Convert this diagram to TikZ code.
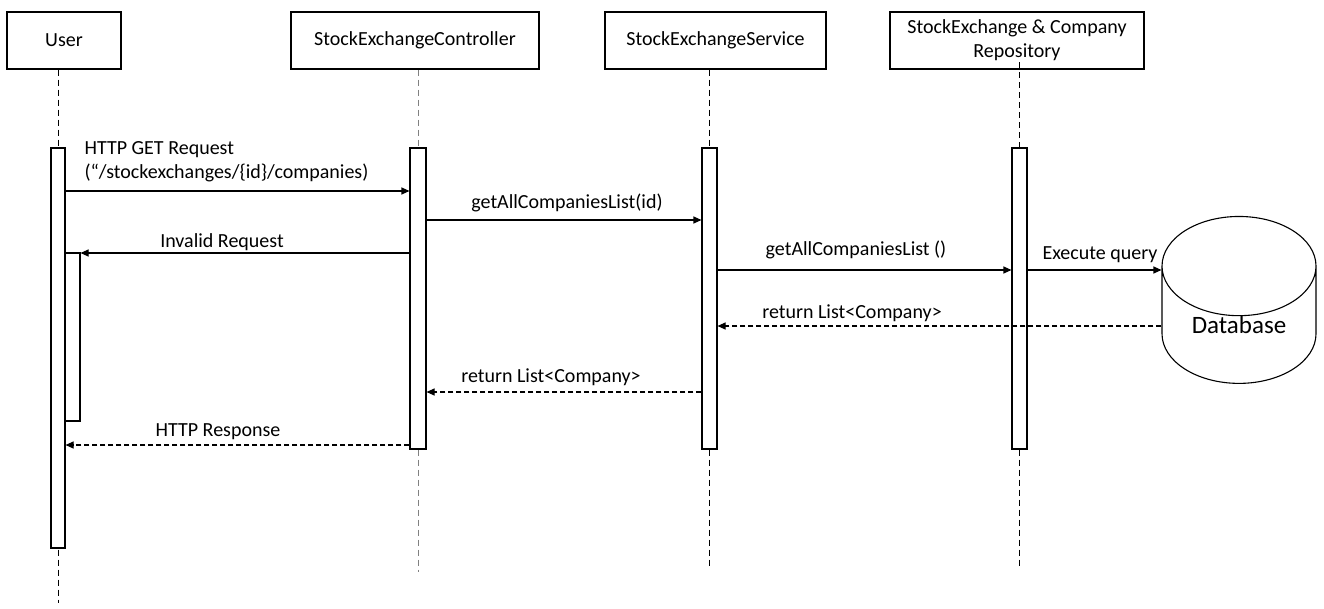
\documentclass[tikz,border=0pt]{standalone}
\usepackage{fontspec}
\setmainfont{Carlito}
\usetikzlibrary{arrows.meta,shapes.geometric,positioning,backgrounds}

\begin{document}
\begin{tikzpicture}[x=1pt,y=-1pt,line width=1.1pt,
    font=\fontsize{20}{24}\selectfont,
    >={Triangle[length=8pt,width=7pt]},
    bar/.style={draw,fill=white,minimum width=14pt,inner sep=0pt},
    lifeline/.style={line width=1pt,dash pattern=on 6pt off 4pt},
    msg/.style={->},
    reply/.style={->,dash pattern=on 5pt off 3pt},
    lbl/.style={inner sep=0pt,align=left}]
    \useasboundingbox (0,0) rectangle (1324,608);

    % participants
    \begin{scope}[every node/.style={draw,fill=white,inner sep=0pt,align=center,minimum height=57pt}]
      \node (user) at (64,40.5) [minimum width=114pt] {User};
      \node (ctrl) at (415,40.5) [minimum width=248pt] {StockExchangeController};
      \node (svc) at (715.5,40.5) [minimum width=221pt] {StockExchangeService};
      \node (repo) at (1017,40.5) [minimum width=254pt] {StockExchange \& Company\\Repository};
    \end{scope}
    \node (db) at (1239,325) [draw,cylinder,shape border rotate=90,aspect=1.05,
      minimum width=154pt,minimum height=159pt,inner sep=0pt,
      font=\fontsize{25}{30}\selectfont] {Database};

    % activations
    \node (ua) at (58,348) [bar,minimum height=400pt] {};
    \node (ub) at (72.5,337) [bar,minimum width=15pt,minimum height=168pt] {};
    \node (ca) at (418,298.5) [bar,minimum width=16pt,minimum height=301pt] {};
    \node (sa) at (709.5,298.5) [bar,minimum width=15pt,minimum height=301pt] {};
    \node (ra) at (1019.5,298.5) [bar,minimum width=15pt,minimum height=301pt] {};

    \coordinate (uend) at (58,603);
    \coordinate (cend) at (418,572);
    \coordinate (send) at (709.5,566);
    \coordinate (rend) at (1019.5,566);

    % lifelines
    \begin{scope}[on background layer]
      \draw[lifeline] (ua |- user.south) -- (uend);
      \draw[lifeline,gray] (ca |- ctrl.south) -- (cend);
      \draw[lifeline] (sa |- svc.south) -- (send);
    \end{scope}
    \draw[lifeline] (ra |- 0,62) -- (ra.north);
    \draw[lifeline] (ra.south) -- (rend);

    % messages
    \draw[msg] (ua.east |- 0,191) -- (ca.west |- 0,191);
    \node[lbl,anchor=west] at (84,162) {HTTP GET Request\\(“/stockexchanges/\{id\}/companies)};
    \draw[msg] (ca.east |- 0,220) -- (sa.west |- 0,220);
    \node[lbl] at (567,203) {getAllCompaniesList(id)};
    \draw[msg] (ca.west |- 0,253) -- (ub.east |- 0,253);
    \node[lbl] at (222,242) {Invalid Request};
    \draw[msg] (sa.east |- 0,270) -- (ra.west |- 0,270);
    \node[lbl] at (856,250) {getAllCompaniesList ()};
    \draw[msg] (ra.east |- 0,270) -- (db.west |- 0,270);
    \node[lbl] at (1100,255) {Execute query};
    \draw[reply] (db.west |- 0,326) -- (sa.east |- 0,326);
    \node[lbl] at (852,313) {return List<Company>};
    \draw[reply] (sa.west |- 0,392) -- (ca.east |- 0,392);
    \node[lbl] at (551,377) {return List<Company>};
    \draw[reply] (ca.west |- 0,445) -- (ua.east |- 0,445);
    \node[lbl] at (218,432) {HTTP Response};
\end{tikzpicture}
\end{document}
